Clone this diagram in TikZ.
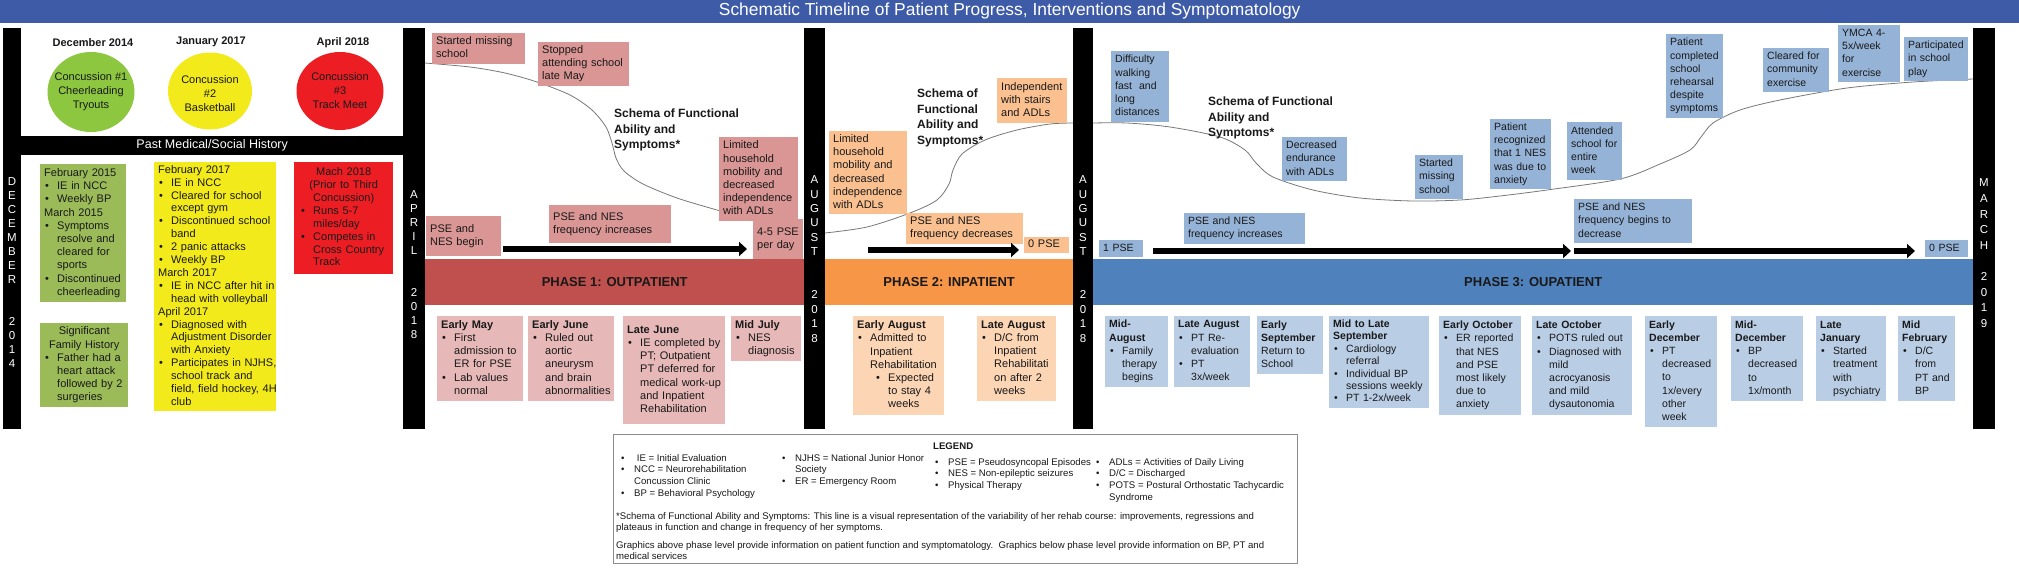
\documentclass[tikz,border=0pt]{standalone}
\usepackage{fontspec}
\setmainfont{Liberation Sans}
\usetikzlibrary{shapes.geometric,arrows.meta}
\definecolor{titleblue}{RGB}{62,91,168}
\definecolor{cgreen}{RGB}{141,198,63}
\definecolor{cyellow}{RGB}{242,234,26}
\definecolor{cred}{RGB}{236,30,36}
\definecolor{hgreen}{RGB}{155,187,89}
\definecolor{pone}{RGB}{192,80,77}
\definecolor{ponea}{RGB}{217,150,148}
\definecolor{poneb}{RGB}{230,185,184}
\definecolor{ptwo}{RGB}{247,150,70}
\definecolor{ptwoa}{RGB}{250,192,144}
\definecolor{ptwob}{RGB}{252,213,181}
\definecolor{pthree}{RGB}{79,129,189}
\definecolor{pthreea}{RGB}{149,179,215}
\definecolor{pthreeb}{RGB}{185,205,229}
\definecolor{curvegray}{RGB}{120,120,120}
\definecolor{legbord}{RGB}{140,140,140}
\definecolor{txt}{RGB}{25,25,25}
\newcommand\fA{\fontsize{11}{13.2}\selectfont}
\newcommand\fAt{\fontsize{11}{12.9}\selectfont}
\newcommand\fC{\fontsize{10.5}{13.2}\selectfont}
\newcommand\fCt{\fontsize{10.5}{12.4}\selectfont}
\newcommand\fL{\fontsize{9.6}{11.7}\selectfont}
\newcommand\bul{\makebox[13pt][l]{\hspace{1pt}\textbullet}}
\newcommand\cnt{\hspace*{13pt}}
\newcommand\lbul{\makebox[13pt][l]{\textbullet}}
\newcommand\lcnt{\hspace*{13pt}}
\newcommand\tbox[1]{\begin{tabular}[t]{@{}l@{}}#1\end{tabular}}
\newcommand\vlet[1]{\begin{tabular}{@{}c@{}}#1\end{tabular}}
\begin{document}
\begin{tikzpicture}[x=1pt,y=-1pt,
  bx/.style={anchor=north west, inner xsep=4pt, inner ysep=2pt, text=txt, font=\fA},
  vbar/.style={anchor=north west, fill=black, inner sep=0pt, minimum height=401pt},
  vtxt/.style={text=white, inner sep=0pt},
  circ/.style={ellipse, inner sep=0pt},
  ctext/.style={align=center, text=txt, font=\fontsize{11}{14}\selectfont, inner sep=0pt},
  datel/.style={font=\bfseries\fontsize{11}{13}\selectfont, text=txt, inner sep=0pt},
  schema/.style={anchor=base west, inner sep=0pt, text=txt, font=\bfseries\fontsize{12}{15.5}\selectfont},
  phaseband/.style={anchor=north west, inner sep=0pt, minimum height=46pt, text=txt, font=\bfseries\fontsize{13}{15}\selectfont},
  fcurve/.style={draw=curvegray, line width=0.8pt},
  bigarr/.style={line width=6pt, -{Triangle[length=8pt,width=14pt]}},
  legtxt/.style={anchor=base west, inner sep=0pt, text=txt, font=\fL}
]
\useasboundingbox (0,0) rectangle (2019,582);
\fill[white] (0,0) rectangle (2019,582);

% title
\node[anchor=north west, fill=titleblue, minimum width=2019pt, minimum height=22.5pt, inner sep=0pt, text=white, font=\fontsize{17.4}{20}\selectfont] (title) at (0,0) {Schematic Timeline of Patient Progress, Interventions and Symptomatology};

% vertical bars
\node[vbar, minimum width=18pt] (bdec) at (3,28) {};
\node[vbar, minimum width=22pt] (bapr) at (403,28) {};
\node[vbar, minimum width=21pt] (baugA) at (804,28) {};
\node[vbar, minimum width=20pt] (baugB) at (1073,28) {};
\node[vbar, minimum width=22pt] (bmar) at (1973,28) {};
\node[vtxt, font=\fontsize{11.5}{14}\selectfont] (tdec) at (12,274) {\vlet{D\\E\\C\\E\\M\\B\\E\\R\\ \\ \\2\\0\\1\\4}};
\node[vtxt, font=\fontsize{11.5}{14}\selectfont] (tapr) at (414,266) {\vlet{A\\P\\R\\I\\L\\ \\ \\2\\0\\1\\8}};
\node[vtxt, font=\fontsize{11.5}{14.4}\selectfont] (taugA) at (814.5,260) {\vlet{A\\U\\G\\U\\S\\T\\ \\ \\2\\0\\1\\8}};
\node[vtxt, font=\fontsize{11.5}{14.4}\selectfont] (taugB) at (1083,260) {\vlet{A\\U\\G\\U\\S\\T\\ \\ \\2\\0\\1\\8}};
\node[vtxt, font=\fontsize{11.5}{15.6}\selectfont] (tmar) at (1984,254) {\vlet{M\\A\\R\\C\\H\\ \\2\\0\\1\\9}};

% concussions
\node[datel] (d1) at (93,43) {December 2014};
\node[datel] (d2) at (211,42) {January 2017};
\node[datel] (d3) at (343,43) {April 2018};
\node[circ, fill=cgreen, minimum width=87pt, minimum height=80pt] (c1) at (91,92) {};
\node[circ, fill=cyellow, minimum width=84pt, minimum height=77pt] (c2) at (210,91) {};
\node[circ, fill=cred, minimum width=87pt, minimum height=78pt] (c3) at (340,91) {};
\node[ctext] (c1t) at (c1) {Concussion \#1\\Cheerleading\\Tryouts};
\node[ctext] (c2t) at ([yshift=-3pt]c2.center) {Concussion\\\#2\\Basketball};
\node[ctext] (c3t) at (c3) {Concussion\\\#3\\Track Meet};

\node[anchor=north west, fill=black, text=white, minimum width=382pt, minimum height=19pt, inner sep=0pt, font=\fontsize{12.5}{14}\selectfont] (pmh) at (21,136) {Past Medical/Social History};

% history boxes
\node[bx, fill=hgreen, text width=78pt, minimum height=138pt] (g1) at (40,164) {\tbox{February 2015\\ \bul IE in NCC\\ \bul Weekly BP\\ March 2015\\ \bul Symptoms\\ \cnt resolve and\\ \cnt cleared for\\ \cnt sports\\ \bul Discontinued\\ \cnt cheerleading}};
\node[bx, fill=hgreen, text width=80pt, minimum height=84pt] (g2) at (40,323) {\tbox{\makebox[80pt]{Significant}\\ \makebox[80pt]{Family History}\\ \bul Father had a\\ \cnt heart attack\\ \cnt followed by 2\\ \cnt surgeries}};
\node[bx, fill=cyellow, text width=114pt, minimum height=249pt, font=\fAt] (y1) at (154,162) {\tbox{February 2017\\ \bul IE in NCC\\ \bul Cleared for school\\ \cnt except gym\\ \bul Discontinued school\\ \cnt band\\ \bul 2 panic attacks\\ \bul Weekly BP\\ March 2017\\ \bul IE in NCC after hit in\\ \cnt head with volleyball\\ April 2017\\ \bul Diagnosed with\\ \cnt Adjustment Disorder\\ \cnt with Anxiety\\ \bul Participates in NJHS,\\ \cnt school track and\\ \cnt field, field hockey, 4H\\ \cnt club}};
\node[bx, fill=cred, text width=91pt, minimum height=112pt, font=\fAt] (r1) at (294,162) {\tbox{\makebox[91pt]{Mach 2018}\\ \makebox[91pt]{(Prior to Third}\\ \makebox[91pt]{Concussion)}\\ \hspace*{2pt}\bul Runs 5-7\\ \hspace*{2pt}\cnt miles/day\\ \hspace*{2pt}\bul Competes in\\ \hspace*{2pt}\cnt Cross Country\\ \hspace*{2pt}\cnt Track}};

% schema curves
\draw[fcurve] plot[smooth, tension=0.5] coordinates {(425,63) (470,67) (505,73) (537,82) (570,95) (592,110) (606,127) (612,143) (616,158) (624,171) (643,184) (677,198) (717,210) (753,220) (800,229)};
\draw[fcurve] plot[smooth, tension=0.5] coordinates {(825,233) (867,227) (910,213) (937,200) (949,184) (953,170) (962,154) (985,140) (1017,130) (1050,124) (1073,123)};
\draw[fcurve] plot[smooth, tension=0.5] coordinates {(1093,123) (1127,123) (1170,127) (1220,137) (1245,150) (1256,163) (1273,177) (1313,190) (1360,198) (1413,201) (1460,200) (1500,196) (1547,190) (1620,179) (1660,164) (1690,150) (1701,137) (1713,123) (1740,110) (1780,100) (1847,88) (1913,82) (1973,79)};

% phase bands
\node[phaseband, fill=pone, minimum width=379pt] (ph1) at (425,259) {PHASE 1: OUTPATIENT};
\node[phaseband, fill=ptwo, minimum width=248pt] (ph2) at (825,259) {PHASE 2: INPATIENT};
\node[phaseband, fill=pthree, minimum width=880pt] (ph3) at (1093,259) {PHASE 3: OUPATIENT};

% phase 1 above
\node[bx, fill=ponea, text width=85pt, minimum height=30pt] (p1s) at (432,33) {\tbox{Started missing\\school}};
\node[bx, fill=ponea, text width=83pt, minimum height=43pt] (p1st) at (538,42) {\tbox{Stopped\\attending school\\late May}};
\node[schema] (sc1) at (614,117.5) {\tbox{Schema of Functional\\Ability and\\Symptoms*}};
\node[bx, fill=ponea, text width=71pt, minimum height=84pt] (p1lim) at (719,137) {\tbox{Limited\\household\\mobility and\\decreased\\independence\\with ADLs}};
\node[bx, fill=ponea, text width=42pt, minimum height=40pt] (p1d) at (753,219) {\tbox{4-5 PSE\\per day}};
\node[bx, fill=ponea, text width=67pt, minimum height=40pt] (p1e) at (426,216) {\tbox{PSE and\\NES begin}};
\node[bx, fill=ponea, text width=114pt, minimum height=38pt] (p1f) at (549,205) {\tbox{PSE and NES\\frequency increases}};
\draw[bigarr, shorten <=2pt, shorten >=6pt] (p1e.east |- 0,249) -- (p1d.west |- 0,249);

% phase 1 below
\node[bx, fill=poneb, text width=78pt, minimum height=85pt] (p1b1) at (437,316) {\tbox{\textbf{Early May}\\ \bul First\\ \cnt admission to\\ \cnt ER for PSE\\ \bul Lab values\\ \cnt normal}};
\node[bx, fill=poneb, text width=78pt, minimum height=85pt] (p1b2) at (528,316) {\tbox{\textbf{Early June}\\ \bul Ruled out\\ \cnt aortic\\ \cnt aneurysm\\ \cnt and brain\\ \cnt abnormalities}};
\node[bx, fill=poneb, text width=94pt, minimum height=108pt] (p1b3) at (623,316) {\tbox{\textbf{Late June}\\ \bul IE completed by\\ \cnt PT; Outpatient\\ \cnt PT deferred for\\ \cnt medical work-up\\ \cnt and Inpatient\\ \cnt Rehabilitation}};
\node[bx, fill=poneb, text width=62pt, minimum height=45pt] (p1b4) at (731,316) {\tbox{\textbf{Mid July}\\ \bul NES\\ \cnt diagnosis}};

% phase 2 above
\node[bx, fill=ptwoa, text width=70pt, minimum height=82pt] (p2lim) at (829,131) {\tbox{Limited\\household\\mobility and\\decreased\\independence\\with ADLs}};
\node[schema] (sc2) at (917,97.5) {\tbox{Schema of\\Functional\\Ability and\\Symptoms*}};
\node[bx, fill=ptwoa, text width=62pt, minimum height=45pt] (p2ind) at (997,78) {\tbox{Independent\\with stairs\\and ADLs}};
\node[bx, fill=ptwoa, text width=109pt, minimum height=30pt] (p2f) at (906,213) {\tbox{PSE and NES\\frequency decreases}};
\node[bx, fill=ptwoa, text width=37pt, minimum height=16pt, inner ysep=1pt] (p2z) at (1024,237) {\tbox{0 PSE}};
\coordinate (a2s) at (868,250);
\draw[bigarr, shorten >=5pt] (a2s) -- (p2z.west |- a2s);

% phase 2 below
\node[bx, fill=ptwob, text width=83pt, minimum height=99pt] (p2b1) at (853,316) {\tbox{\textbf{Early August}\\ \bul Admitted to\\ \cnt Inpatient\\ \cnt Rehabilitation\\ \hspace*{18pt}\bul Expected\\ \hspace*{31pt}to stay 4\\ \hspace*{31pt}weeks}};
\node[bx, fill=ptwob, text width=71pt, minimum height=85pt] (p2b2) at (977,316) {\tbox{\textbf{Late August}\\ \bul D/C from\\ \cnt Inpatient\\ \cnt Rehabilitati\\ \cnt on after 2\\ \cnt weeks}};

% phase 3 above
\node[bx, fill=pthreea, text width=50pt, minimum height=71pt, font=\fC] (p3a) at (1111,51) {\tbox{Difficulty\\walking\\fast\ \ and\\long\\distances}};
\node[schema] (sc3) at (1208,105.5) {\tbox{Schema of Functional\\Ability and\\Symptoms*}};
\node[bx, fill=pthreea, text width=57pt, minimum height=44pt, font=\fC] (p3b) at (1282,137) {\tbox{Decreased\\endurance\\with ADLs}};
\node[bx, fill=pthreea, text width=40pt, minimum height=44pt, font=\fC] (p3c) at (1415,155) {\tbox{Started\\missing\\school}};
\node[bx, fill=pthreea, text width=53pt, minimum height=70pt, font=\fC] (p3d) at (1490,119) {\tbox{Patient\\recognized\\that 1 NES\\was due to\\anxiety}};
\node[bx, fill=pthreea, text width=47pt, minimum height=58pt, font=\fC] (p3e) at (1567,122) {\tbox{Attended\\school for\\entire\\week}};
\node[bx, fill=pthreea, text width=49pt, minimum height=84pt, font=\fC] (p3f) at (1666,34) {\tbox{Patient\\completed\\school\\rehearsal\\despite\\symptoms}};
\node[bx, fill=pthreea, text width=58pt, minimum height=44pt, font=\fC] (p3g) at (1763,48) {\tbox{Cleared for\\community\\exercise}};
\node[bx, fill=pthreea, text width=54pt, minimum height=57pt, font=\fC] (p3h) at (1838,25) {\tbox{YMCA 4-\\5x/week\\for\\exercise}};
\node[bx, fill=pthreea, text width=56pt, minimum height=44pt, font=\fC] (p3i) at (1904,37) {\tbox{Participated\\in school\\play}};
\node[bx, fill=pthreea, text width=113pt, minimum height=30pt, font=\fC] (p3inc) at (1184,213) {\tbox{PSE and NES\\frequency increases}};
\node[bx, fill=pthreea, text width=36pt, minimum height=17pt, inner ysep=1pt, font=\fC] (p3one) at (1099,240) {\tbox{1 PSE}};
\node[bx, fill=pthreea, text width=110pt, minimum height=44pt, font=\fC] (p3dec) at (1574,199) {\tbox{PSE and NES\\frequency begins to\\decrease}};
\node[bx, fill=pthreea, text width=35pt, minimum height=17pt, inner ysep=1pt, font=\fC] (p3zero) at (1925,240) {\tbox{0 PSE}};
\draw[bigarr, shorten <=10pt, shorten >=3pt] (p3one.east |- 0,251) -- (p3dec.west |- 0,251);
\draw[bigarr, shorten >=10pt] (p3dec.west |- 0,251) -- (p3zero.west |- 0,251);

% phase 3 below
\node[bx, fill=pthreeb, text width=55pt, minimum height=71pt, font=\fC] (p3b1) at (1105,316) {\tbox{\textbf{Mid-}\\ \textbf{August}\\ \bul Family\\ \cnt therapy\\ \cnt begins}};
\node[bx, fill=pthreeb, text width=68pt, minimum height=71pt, font=\fC] (p3b2) at (1174,316) {\tbox{\textbf{Late August}\\ \bul PT Re-\\ \cnt evaluation\\ \bul PT\\ \cnt 3x/week}};
\node[bx, fill=pthreeb, text width=58pt, minimum height=58pt, font=\fC] (p3b3) at (1257,316) {\tbox{\textbf{Early}\\ \textbf{September}\\ Return to\\ School}};
\node[bx, fill=pthreeb, text width=92pt, minimum height=92pt, font=\fCt] (p3b4) at (1329,316) {\tbox{\textbf{Mid to Late}\\ \textbf{September}\\ \bul Cardiology\\ \cnt referral\\ \bul Individual BP\\ \cnt sessions weekly\\ \bul PT 1-2x/week}};
\node[bx, fill=pthreeb, text width=74pt, minimum height=99pt, font=\fC] (p3b5) at (1439,316) {\tbox{\textbf{Early October}\\ \bul ER reported\\ \cnt that NES\\ \cnt and PSE\\ \cnt most likely\\ \cnt due to\\ \cnt anxiety}};
\node[bx, fill=pthreeb, text width=92pt, minimum height=99pt, font=\fC] (p3b6) at (1532,316) {\tbox{\textbf{Late October}\\ \bul POTS ruled out\\ \bul Diagnosed with\\ \cnt mild\\ \cnt acrocyanosis\\ \cnt and mild\\ \cnt dysautonomia}};
\node[bx, fill=pthreeb, text width=64pt, minimum height=111pt, font=\fC] (p3b7) at (1645,316) {\tbox{\textbf{Early}\\ \textbf{December}\\ \bul PT\\ \cnt decreased\\ \cnt to\\ \cnt 1x/every\\ \cnt other\\ \cnt week}};
\node[bx, fill=pthreeb, text width=64pt, minimum height=85pt, font=\fC] (p3b8) at (1731,316) {\tbox{\textbf{Mid-}\\ \textbf{December}\\ \bul BP\\ \cnt decreased\\ \cnt to\\ \cnt 1x/month}};
\node[bx, fill=pthreeb, text width=62pt, minimum height=85pt, font=\fC] (p3b9) at (1816,316) {\tbox{\textbf{Late}\\ \textbf{January}\\ \bul Started\\ \cnt treatment\\ \cnt with\\ \cnt psychiatry}};
\node[bx, fill=pthreeb, text width=49pt, minimum height=85pt, font=\fC] (p3b10) at (1898,316) {\tbox{\textbf{Mid}\\ \textbf{February}\\ \bul D/C\\ \cnt from\\ \cnt PT and\\ \cnt BP}};

% legend
\node[draw=legbord, line width=0.8pt, anchor=north west, minimum width=684pt, minimum height=129pt, inner sep=0pt] (legbox) at (613,434) {};
\node[legtxt, font=\bfseries\fL] (legt) at (933,449) {LEGEND};
\node[legtxt] (l1) at (621,461) {\tbox{\lbul\ IE = Initial Evaluation\\ \lbul NCC = Neurorehabilitation\\ \lcnt Concussion Clinic\\ \lbul BP = Behavioral Psychology}};
\node[legtxt] (l2) at (782,461) {\tbox{\lbul NJHS = National Junior Honor\\ \lcnt Society\\ \lbul ER = Emergency Room}};
\node[legtxt] (l3) at (935,465) {\tbox{\lbul PSE = Pseudosyncopal Episodes\\ \lbul NES = Non-epileptic seizures\\ \lbul Physical Therapy}};
\node[legtxt] (l4) at (1096,465) {\tbox{\lbul ADLs = Activities of Daily Living\\ \lbul D/C = Discharged\\ \lbul POTS = Postural Orthostatic Tachycardic\\ \lcnt Syndrome}};
\node[legtxt] (lp1) at (616,519) {\tbox{*Schema of Functional Ability and Symptoms: This line is a visual representation of the variability of her rehab course: improvements, regressions and\\plateaus in function and change in frequency of her symptoms.}};
\node[legtxt] (lp2) at (616,548) {\tbox{Graphics above phase level provide information on patient function and symptomatology.\ \ Graphics below phase level provide information on BP, PT and\\medical services}};
\end{tikzpicture}
\end{document}
